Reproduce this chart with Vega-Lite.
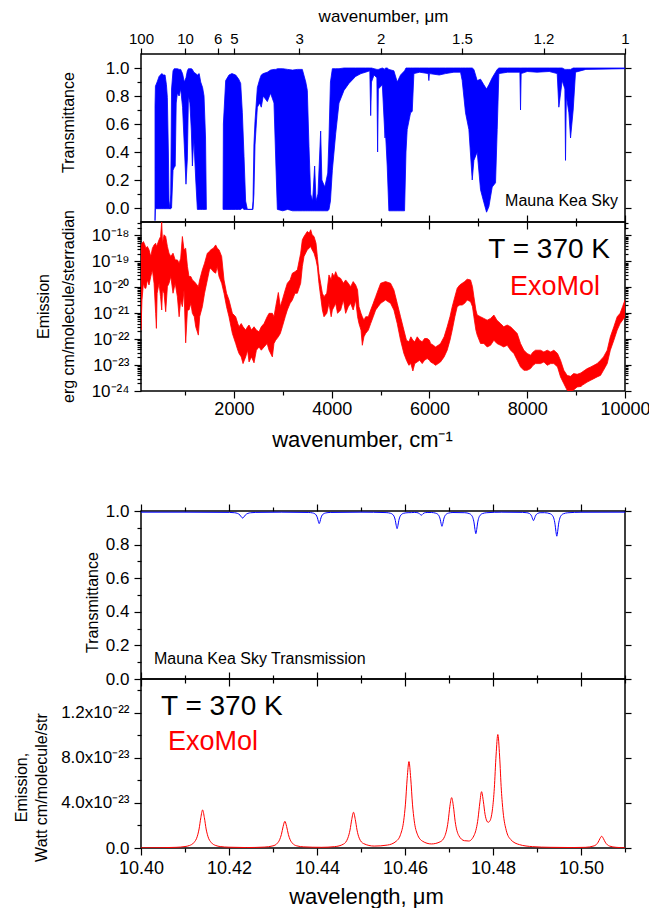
{
  "$schema": "https://vega.github.io/schema/vega-lite/v6.json",
  "autosize": {"type": "pad"},
  "padding": {"left": 12, "top": 6, "right": 0, "bottom": 0},
  "background": "white",
  "config": {
    "font": "Liberation Sans",
    "view": {"stroke": "black", "strokeWidth": 1.5},
    "axis": {
      "domain": false, "grid": false, "tickColor": "black", "tickWidth": 1.2,
      "labelFont": "Liberation Sans", "labelFontSize": 17, "labelColor": "black",
      "titleFont": "Liberation Sans", "titleFontWeight": "normal", "titleColor": "black", "titleFontSize": 16,
      "labelOverlap": false, "labelFlush": false, "labelBound": false
    },
    "text": {"font": "Liberation Sans"}
  },
  "datasets": {
    "trans_wide": [
      {"wn":387,"lo":-0.09,"hi":0.73,"s":1},{"wn":395,"lo":-0.005,"hi":0.87,"s":1},{"wn":430,"lo":-0.005,"hi":0.9,"s":1},
      {"wn":470,"lo":-0.005,"hi":0.94,"s":1},{"wn":524,"lo":-0.005,"hi":0.96,"s":1},{"wn":560,"lo":-0.005,"hi":0.95,"s":1},
      {"wn":592,"lo":-0.005,"hi":0.95,"s":1},{"wn":620,"lo":-0.005,"hi":0.88,"s":1},{"wn":639,"lo":-0.005,"hi":0.79,"s":1},
      {"wn":660,"lo":-0.005,"hi":0.4,"s":1},{"wn":673,"lo":-0.005,"hi":0.05,"s":1},{"wn":690,"lo":-0.005,"hi":-0.005,"s":1},
      {"wn":708,"lo":-0.005,"hi":0.1,"s":1},{"wn":725,"lo":0,"hi":0.85,"s":1},{"wn":755,"lo":0.27,"hi":0.98,"s":1},
      {"wn":780,"lo":0.29,"hi":0.995,"s":1},{"wn":800,"lo":0.3,"hi":0.995,"s":1},{"wn":820,"lo":0.75,"hi":0.995,"s":1},
      {"wn":844,"lo":0.82,"hi":0.995,"s":1},{"wn":880,"lo":0.8,"hi":0.99,"s":1},{"wn":912,"lo":0.85,"hi":0.99,"s":1},
      {"wn":950,"lo":0.72,"hi":0.96,"s":1},{"wn":985,"lo":0.45,"hi":0.9,"s":1},{"wn":1020,"lo":0.17,"hi":0.93,"s":1},
      {"wn":1048,"lo":0.35,"hi":0.98,"s":1},{"wn":1070,"lo":0.8,"hi":0.995,"s":1},{"wn":1100,"lo":0.75,"hi":0.995,"s":1},
      {"wn":1130,"lo":0.55,"hi":0.995,"s":1},{"wn":1151,"lo":0.3,"hi":0.99,"s":1},{"wn":1180,"lo":0.5,"hi":0.97,"s":1},
      {"wn":1220,"lo":0.2,"hi":0.96,"s":1},{"wn":1253,"lo":-0.01,"hi":0.95,"s":1},{"wn":1290,"lo":-0.01,"hi":0.96,"s":1},
      {"wn":1321,"lo":-0.01,"hi":0.9,"s":1},{"wn":1360,"lo":-0.01,"hi":0.86,"s":1},{"wn":1389,"lo":-0.01,"hi":0.8,"s":1},
      {"wn":1420,"lo":-0.01,"hi":0.5,"s":1},{"wn":1437,"lo":-0.01,"hi":-0.01,"s":1},
      {"wn":1778,"lo":-0.01,"hi":0.0,"s":2},{"wn":1785,"lo":-0.01,"hi":0.6,"s":2},{"wn":1832,"lo":-0.01,"hi":0.91,"s":2},
      {"wn":1900,"lo":-0.01,"hi":0.95,"s":2},{"wn":1960,"lo":-0.01,"hi":0.96,"s":2},{"wn":2037,"lo":-0.01,"hi":0.95,"s":2},
      {"wn":2100,"lo":-0.01,"hi":0.92,"s":2},{"wn":2139,"lo":-0.01,"hi":0.89,"s":2},{"wn":2173,"lo":0.0,"hi":0.68,"s":2},
      {"wn":2207,"lo":-0.01,"hi":0.37,"s":2},{"wn":2240,"lo":-0.01,"hi":0.05,"s":2},{"wn":2275,"lo":-0.01,"hi":-0.01,"s":2},
      {"wn":2378,"lo":-0.01,"hi":-0.01,"s":2},{"wn":2391,"lo":-0.01,"hi":0.05,"s":2},{"wn":2410,"lo":0.1,"hi":0.45,"s":2},
      {"wn":2432,"lo":0.45,"hi":0.62,"s":2},{"wn":2480,"lo":0.72,"hi":0.86,"s":2},{"wn":2528,"lo":0.75,"hi":0.92,"s":2},
      {"wn":2560,"lo":0.72,"hi":0.95,"s":2},{"wn":2600,"lo":0.8,"hi":0.96,"s":2},{"wn":2684,"lo":0.76,"hi":0.97,"s":2},
      {"wn":2750,"lo":0.82,"hi":0.985,"s":2},{"wn":2820,"lo":0.75,"hi":0.99,"s":2},{"wn":2860,"lo":0.3,"hi":0.99,"s":2},
      {"wn":2889,"lo":-0.01,"hi":0.995,"s":2},{"wn":3000,"lo":-0.02,"hi":0.995,"s":2},{"wn":3100,"lo":-0.01,"hi":0.99,"s":2},
      {"wn":3200,"lo":-0.02,"hi":0.985,"s":2},{"wn":3300,"lo":-0.02,"hi":0.99,"s":2},{"wn":3400,"lo":-0.02,"hi":0.99,"s":2},
      {"wn":3470,"lo":-0.02,"hi":0.9,"s":2},{"wn":3502,"lo":-0.02,"hi":0.84,"s":2},{"wn":3536,"lo":-0.02,"hi":0.44,"s":2},
      {"wn":3570,"lo":-0.02,"hi":0.1,"s":2},{"wn":3610,"lo":-0.02,"hi":0.05,"s":2},{"wn":3652,"lo":-0.02,"hi":0.3,"s":2},
      {"wn":3680,"lo":-0.02,"hi":0.05,"s":2},{"wn":3720,"lo":-0.02,"hi":0.1,"s":2},{"wn":3775,"lo":-0.02,"hi":0.55,"s":2},
      {"wn":3800,"lo":-0.02,"hi":0.2,"s":2},{"wn":3860,"lo":-0.02,"hi":0.15,"s":2},{"wn":3920,"lo":-0.02,"hi":0.25,"s":2},
      {"wn":3945,"lo":-0.01,"hi":0.5,"s":2},{"wn":3975,"lo":0.05,"hi":0.9,"s":2},{"wn":4014,"lo":0.27,"hi":0.995,"s":2},
      {"wn":4082,"lo":0.53,"hi":0.995,"s":2},{"wn":4150,"lo":0.75,"hi":0.995,"s":2},{"wn":4252,"lo":0.84,"hi":1.0,"s":2},
      {"wn":4354,"lo":0.89,"hi":1.0,"s":2},{"wn":4491,"lo":0.94,"hi":1.0,"s":2},{"wn":4600,"lo":0.96,"hi":1.0,"s":2},
      {"wn":4695,"lo":0.97,"hi":1.0,"s":2},{"wn":4780,"lo":0.98,"hi":1.0,"s":2},{"wn":4798,"lo":0.66,"hi":1.0,"s":2},
      {"wn":4815,"lo":0.9,"hi":1.0,"s":2},{"wn":4866,"lo":0.95,"hi":0.995,"s":2},{"wn":4925,"lo":0.93,"hi":0.99,"s":2},
      {"wn":4940,"lo":0.4,"hi":0.99,"s":2},{"wn":4955,"lo":0.85,"hi":0.99,"s":2},{"wn":5036,"lo":0.88,"hi":1.0,"s":2},
      {"wn":5091,"lo":0.5,"hi":0.99,"s":2},{"wn":5100,"lo":0.55,"hi":1.0,"s":2},{"wn":5136,"lo":0.3,"hi":1.0,"s":2},
      {"wn":5170,"lo":-0.02,"hi":0.99,"s":2},{"wn":5273,"lo":-0.02,"hi":0.98,"s":2},{"wn":5341,"lo":-0.02,"hi":0.9,"s":2},
      {"wn":5409,"lo":-0.02,"hi":0.95,"s":2},{"wn":5491,"lo":-0.02,"hi":0.98,"s":2},{"wn":5520,"lo":0.4,"hi":1.0,"s":2},
      {"wn":5545,"lo":0.56,"hi":1.0,"s":2},{"wn":5614,"lo":0.68,"hi":1.0,"s":2},{"wn":5648,"lo":0.69,"hi":1.0,"s":2},
      {"wn":5682,"lo":0.96,"hi":1.0,"s":2},{"wn":5800,"lo":0.97,"hi":1.0,"s":2},{"wn":5975,"lo":0.96,"hi":1.0,"s":2},
      {"wn":5988,"lo":0.91,"hi":1.0,"s":2},{"wn":6000,"lo":0.96,"hi":1.0,"s":2},{"wn":6200,"lo":0.95,"hi":1.0,"s":2},
      {"wn":6330,"lo":0.96,"hi":1.0,"s":2},{"wn":6500,"lo":0.97,"hi":1.0,"s":2},{"wn":6636,"lo":0.97,"hi":1.0,"s":2},
      {"wn":6670,"lo":0.91,"hi":1.0,"s":2},{"wn":6738,"lo":0.68,"hi":1.0,"s":2},{"wn":6807,"lo":0.56,"hi":1.0,"s":2},
      {"wn":6875,"lo":0.2,"hi":1.0,"s":2},{"wn":6909,"lo":0.34,"hi":0.99,"s":2},{"wn":6977,"lo":0.4,"hi":0.91,"s":2},
      {"wn":7045,"lo":0.13,"hi":0.92,"s":2},{"wn":7113,"lo":0.04,"hi":0.88,"s":2},{"wn":7168,"lo":-0.03,"hi":0.85,"s":2},
      {"wn":7216,"lo":0.01,"hi":0.88,"s":2},{"wn":7284,"lo":0.15,"hi":0.93,"s":2},{"wn":7352,"lo":0.18,"hi":0.97,"s":2},
      {"wn":7386,"lo":0.56,"hi":0.99,"s":2},{"wn":7420,"lo":0.96,"hi":1.0,"s":2},{"wn":7600,"lo":0.97,"hi":1.0,"s":2},
      {"wn":7850,"lo":0.97,"hi":1.0,"s":2},{"wn":7863,"lo":0.7,"hi":1.0,"s":2},{"wn":7876,"lo":0.96,"hi":1.0,"s":2},
      {"wn":8000,"lo":0.975,"hi":1.0,"s":2},{"wn":8200,"lo":0.97,"hi":1.0,"s":2},{"wn":8450,"lo":0.975,"hi":1.0,"s":2},
      {"wn":8613,"lo":0.96,"hi":1.0,"s":2},{"wn":8647,"lo":0.72,"hi":1.0,"s":2},{"wn":8715,"lo":0.91,"hi":1.0,"s":2},
      {"wn":8770,"lo":0.85,"hi":0.99,"s":2},{"wn":8783,"lo":0.34,"hi":0.99,"s":2},{"wn":8800,"lo":0.8,"hi":0.99,"s":2},
      {"wn":8852,"lo":0.68,"hi":0.99,"s":2},{"wn":8886,"lo":0.5,"hi":0.99,"s":2},{"wn":8940,"lo":0.7,"hi":1.0,"s":2},
      {"wn":8988,"lo":0.97,"hi":1.0,"s":2},{"wn":9200,"lo":0.99,"hi":1.0,"s":2},{"wn":10000,"lo":0.995,"hi":1.0,"s":2}
    ],
    "emis_wide": [
      {"wn":100,"lo":2.23e-22,"hi":3.75e-19},{"wn":120,"lo":3.24e-21,"hi":5.0e-19},{"wn":150,"lo":1.43e-20,"hi":5.8e-19},
      {"wn":180,"lo":9.2e-21,"hi":4.3e-19},{"wn":200,"lo":9.2e-21,"hi":3.2e-19},{"wn":230,"lo":1.92e-20,"hi":3.75e-19},
      {"wn":264,"lo":1.23e-20,"hi":2.8e-19},{"wn":300,"lo":2.6e-20,"hi":1.54e-19},{"wn":333,"lo":4.7e-20,"hi":3.2e-19},
      {"wn":367,"lo":1.43e-20,"hi":4.3e-19},{"wn":400,"lo":9.9e-22,"hi":5.0e-19},{"wn":415,"lo":2.6e-22,"hi":3.75e-19},
      {"wn":430,"lo":5.9e-21,"hi":4.3e-19},{"wn":469,"lo":1.43e-20,"hi":6.8e-19},{"wn":500,"lo":4.36e-21,"hi":9.1e-19},
      {"wn":524,"lo":1.33e-21,"hi":3.5e-18},{"wn":540,"lo":7.9e-21,"hi":5.0e-19},{"wn":571,"lo":5.9e-21,"hi":1.06e-18},
      {"wn":605,"lo":1.14e-21,"hi":9.1e-19},{"wn":640,"lo":1.06e-20,"hi":3.75e-19},{"wn":673,"lo":1.43e-20,"hi":2.07e-19},
      {"wn":710,"lo":2.6e-20,"hi":1.54e-19},{"wn":755,"lo":5.9e-21,"hi":2.07e-19},{"wn":800,"lo":1.43e-20,"hi":1.14e-19},
      {"wn":844,"lo":4.36e-21,"hi":1.14e-19},{"wn":880,"lo":7.3e-22,"hi":8.5e-20},{"wn":912,"lo":3.24e-21,"hi":1.32e-19},
      {"wn":946,"lo":1.79e-21,"hi":9.1e-19},{"wn":980,"lo":7.9e-21,"hi":2.8e-19},{"wn":1014,"lo":7.2e-23,"hi":3.2e-19},
      {"wn":1050,"lo":1.33e-21,"hi":6.3e-20},{"wn":1082,"lo":1.33e-21,"hi":2.6e-20},{"wn":1120,"lo":2.4e-21,"hi":2.6e-20},
      {"wn":1151,"lo":9.9e-22,"hi":1.92e-20},{"wn":1190,"lo":7.3e-22,"hi":1.66e-20},{"wn":1219,"lo":3.0e-22,"hi":1.43e-20},
      {"wn":1273,"lo":1.43e-22,"hi":1.06e-20},{"wn":1300,"lo":7.3e-22,"hi":1.92e-20},{"wn":1355,"lo":1.79e-21,"hi":4.7e-20},
      {"wn":1400,"lo":5.9e-21,"hi":8.5e-20},{"wn":1457,"lo":1.92e-20,"hi":2.07e-19},{"wn":1500,"lo":4.7e-20,"hi":2.4e-19},
      {"wn":1526,"lo":5.4e-20,"hi":2.8e-19},{"wn":1580,"lo":4.0e-20,"hi":3.2e-19},{"wn":1628,"lo":3.5e-20,"hi":4.3e-19},
      {"wn":1660,"lo":6.3e-20,"hi":3.2e-19},{"wn":1696,"lo":2.6e-20,"hi":2.8e-19},{"wn":1750,"lo":1.43e-20,"hi":1.54e-19},
      {"wn":1798,"lo":5.9e-21,"hi":1.92e-20},{"wn":1850,"lo":1.79e-21,"hi":5.9e-21},{"wn":1900,"lo":7.3e-22,"hi":3.24e-21},
      {"wn":1969,"lo":1.66e-22,"hi":9.9e-22},{"wn":2037,"lo":6.8e-23,"hi":7.3e-22},{"wn":2080,"lo":3.75e-23,"hi":4.0e-22},
      {"wn":2105,"lo":2.8e-23,"hi":3.0e-22},{"wn":2150,"lo":2.07e-23,"hi":4.0e-22},{"wn":2187,"lo":1.14e-23,"hi":3.0e-22},
      {"wn":2241,"lo":2.07e-23,"hi":2.23e-22},{"wn":2280,"lo":3.75e-23,"hi":3.0e-22},{"wn":2310,"lo":1.32e-23,"hi":3.5e-22},
      {"wn":2360,"lo":2.07e-23,"hi":2.23e-22},{"wn":2412,"lo":1.22e-23,"hi":3.0e-22},{"wn":2460,"lo":3.75e-23,"hi":2.23e-22},
      {"wn":2514,"lo":5.0e-23,"hi":1.92e-22},{"wn":2560,"lo":3.75e-23,"hi":3.0e-22},{"wn":2617,"lo":5.0e-23,"hi":4.0e-22},
      {"wn":2680,"lo":6.8e-23,"hi":7.3e-22},{"wn":2719,"lo":3.75e-23,"hi":9.9e-22},{"wn":2787,"lo":2.07e-23,"hi":9.9e-22},
      {"wn":2820,"lo":6.8e-23,"hi":7.3e-22},{"wn":2855,"lo":9.1e-23,"hi":1.79e-21},{"wn":2909,"lo":1.23e-22,"hi":6.3e-21},
      {"wn":2950,"lo":1.66e-22,"hi":1.79e-21},{"wn":2991,"lo":3.0e-22,"hi":3.24e-21},{"wn":3050,"lo":7.3e-22,"hi":7.9e-21},
      {"wn":3093,"lo":1.33e-21,"hi":1.43e-20},{"wn":3150,"lo":2.4e-21,"hi":1.92e-20},{"wn":3196,"lo":3.24e-21,"hi":3.5e-20},
      {"wn":3250,"lo":5.9e-21,"hi":4.0e-20},{"wn":3298,"lo":5.9e-21,"hi":4.7e-20},{"wn":3366,"lo":1.43e-20,"hi":2.07e-19},
      {"wn":3400,"lo":6.3e-20,"hi":6.8e-19},{"wn":3434,"lo":1.54e-19,"hi":9.1e-19},{"wn":3502,"lo":2.8e-19,"hi":1.43e-18},
      {"wn":3540,"lo":3.2e-19,"hi":1.23e-18},{"wn":3571,"lo":3.75e-19,"hi":1.66e-18},{"wn":3600,"lo":2.8e-19,"hi":1.06e-18},
      {"wn":3639,"lo":2.07e-19,"hi":9.1e-19},{"wn":3680,"lo":1.14e-19,"hi":5.0e-19},{"wn":3707,"lo":6.3e-20,"hi":1.54e-19},
      {"wn":3740,"lo":1.43e-20,"hi":3.5e-20},{"wn":3775,"lo":4.36e-21,"hi":1.43e-20},{"wn":3810,"lo":1.33e-21,"hi":5.9e-21},
      {"wn":3843,"lo":7.3e-22,"hi":4.36e-21},{"wn":3900,"lo":9.9e-22,"hi":5.9e-21},{"wn":3945,"lo":2.4e-21,"hi":3.0e-20},
      {"wn":3990,"lo":7.3e-22,"hi":1.92e-20},{"wn":4014,"lo":1.33e-21,"hi":3.5e-20},{"wn":4050,"lo":1.79e-21,"hi":2.6e-20},
      {"wn":4082,"lo":2.4e-21,"hi":4.0e-20},{"wn":4120,"lo":9.9e-22,"hi":2.6e-20},{"wn":4184,"lo":1.33e-21,"hi":2.2e-20},
      {"wn":4240,"lo":3.24e-21,"hi":1.43e-20},{"wn":4286,"lo":9.9e-22,"hi":1.92e-20},{"wn":4340,"lo":1.79e-21,"hi":1.43e-20},
      {"wn":4389,"lo":2.4e-21,"hi":1.06e-20},{"wn":4440,"lo":1.33e-21,"hi":1.66e-20},{"wn":4491,"lo":3.24e-21,"hi":1.23e-20},
      {"wn":4530,"lo":7.3e-22,"hi":7.9e-21},{"wn":4559,"lo":4.0e-22,"hi":1.79e-21},{"wn":4600,"lo":2.23e-22,"hi":9.9e-22},
      {"wn":4627,"lo":5.8e-23,"hi":7.3e-22},{"wn":4660,"lo":1.23e-22,"hi":5.4e-22},{"wn":4695,"lo":1.66e-22,"hi":7.3e-22},
      {"wn":4750,"lo":2.23e-22,"hi":7.3e-22},{"wn":4798,"lo":4.0e-22,"hi":1.33e-21},{"wn":4850,"lo":7.3e-22,"hi":2.4e-21},
      {"wn":4900,"lo":1.33e-21,"hi":4.36e-21},{"wn":4950,"lo":1.79e-21,"hi":7.9e-21},{"wn":5002,"lo":2.4e-21,"hi":1.43e-20},
      {"wn":5102,"lo":3.24e-21,"hi":1.66e-20},{"wn":5205,"lo":2.4e-21,"hi":1.43e-20},{"wn":5273,"lo":1.33e-21,"hi":7.9e-21},
      {"wn":5341,"lo":4.0e-22,"hi":2.4e-21},{"wn":5409,"lo":9.1e-23,"hi":7.3e-22},{"wn":5477,"lo":2.8e-23,"hi":2.23e-22},
      {"wn":5530,"lo":1.54e-23,"hi":9.1e-23},{"wn":5579,"lo":9.8e-24,"hi":7.9e-23},{"wn":5620,"lo":1.14e-23,"hi":1.23e-22},
      {"wn":5661,"lo":5.9e-24,"hi":9.1e-23},{"wn":5700,"lo":1.14e-23,"hi":7.9e-23},{"wn":5750,"lo":1.32e-23,"hi":1.23e-22},
      {"wn":5800,"lo":1.54e-23,"hi":9.1e-23},{"wn":5852,"lo":1.14e-23,"hi":7.9e-23},{"wn":5900,"lo":1.54e-23,"hi":1.06e-22},
      {"wn":5954,"lo":1.78e-23,"hi":1.06e-22},{"wn":6000,"lo":1.54e-23,"hi":9.1e-23},{"wn":6023,"lo":1.32e-23,"hi":6.8e-23},
      {"wn":6080,"lo":1.14e-23,"hi":5.8e-23},{"wn":6125,"lo":9.8e-24,"hi":5.0e-23},{"wn":6180,"lo":1.14e-23,"hi":5.8e-23},
      {"wn":6227,"lo":1.32e-23,"hi":6.8e-23},{"wn":6300,"lo":2.07e-23,"hi":1.23e-22},{"wn":6363,"lo":3.75e-23,"hi":3.0e-22},
      {"wn":6420,"lo":9.1e-23,"hi":7.3e-22},{"wn":6466,"lo":2.23e-22,"hi":1.79e-21},{"wn":6520,"lo":7.3e-22,"hi":4.36e-21},
      {"wn":6568,"lo":1.79e-21,"hi":9.2e-21},{"wn":6620,"lo":2.07e-21,"hi":1.23e-20},{"wn":6670,"lo":2.07e-21,"hi":1.43e-20},
      {"wn":6720,"lo":2.4e-21,"hi":1.66e-20},{"wn":6772,"lo":3.24e-21,"hi":2.05e-20},{"wn":6841,"lo":2.8e-21,"hi":1.92e-20},
      {"wn":6880,"lo":1.79e-21,"hi":1.06e-20},{"wn":6909,"lo":7.3e-22,"hi":4.36e-21},{"wn":6950,"lo":2.23e-22,"hi":1.33e-21},
      {"wn":6977,"lo":1.43e-22,"hi":8.5e-22},{"wn":7045,"lo":6.8e-23,"hi":7.3e-22},{"wn":7113,"lo":6.8e-23,"hi":6.3e-22},
      {"wn":7181,"lo":5.0e-23,"hi":5.4e-22},{"wn":7250,"lo":5.8e-23,"hi":6.3e-22},{"wn":7318,"lo":9.1e-23,"hi":8.5e-22},
      {"wn":7380,"lo":6.8e-23,"hi":5.4e-22},{"wn":7454,"lo":5.8e-23,"hi":4.0e-22},{"wn":7520,"lo":5.0e-23,"hi":3.0e-22},
      {"wn":7590,"lo":5.8e-23,"hi":3.5e-22},{"wn":7660,"lo":3.75e-23,"hi":3.0e-22},{"wn":7727,"lo":2.8e-23,"hi":2.23e-22},
      {"wn":7795,"lo":1.54e-23,"hi":1.66e-22},{"wn":7863,"lo":8.5e-24,"hi":6.8e-23},{"wn":7931,"lo":6.3e-24,"hi":3.75e-23},
      {"wn":7999,"lo":6.3e-24,"hi":2.8e-23},{"wn":8068,"lo":7.3e-24,"hi":2.4e-23},{"wn":8120,"lo":9.8e-24,"hi":3.2e-23},
      {"wn":8170,"lo":1.14e-23,"hi":3.75e-23},{"wn":8272,"lo":1.14e-23,"hi":3.75e-23},{"wn":8340,"lo":1.32e-23,"hi":3.2e-23},
      {"wn":8409,"lo":9.8e-24,"hi":3.75e-23},{"wn":8480,"lo":1.14e-23,"hi":3.2e-23},{"wn":8545,"lo":1.14e-23,"hi":3.75e-23},
      {"wn":8620,"lo":8.5e-24,"hi":2.8e-23},{"wn":8681,"lo":3.5e-24,"hi":1.54e-23},{"wn":8749,"lo":1.92e-24,"hi":6.3e-24},
      {"wn":8817,"lo":1.06e-24,"hi":4.0e-24},{"wn":8886,"lo":9e-25,"hi":3.7e-24},{"wn":8950,"lo":1.1e-24,"hi":4.7e-24},
      {"wn":9022,"lo":1.43e-24,"hi":4.4e-24},{"wn":9100,"lo":1.5e-24,"hi":5.0e-24},{"wn":9124,"lo":1.66e-24,"hi":5.4e-24},
      {"wn":9227,"lo":2.2e-24,"hi":7.3e-24},{"wn":9300,"lo":2.6e-24,"hi":8.5e-24},{"wn":9363,"lo":3.0e-24,"hi":9.8e-24},
      {"wn":9430,"lo":3.5e-24,"hi":1.14e-23},{"wn":9499,"lo":4.0e-24,"hi":1.54e-23},{"wn":9560,"lo":6.3e-24,"hi":2.07e-23},
      {"wn":9636,"lo":1.14e-23,"hi":3.75e-23},{"wn":9700,"lo":3.75e-23,"hi":1.23e-22},{"wn":9772,"lo":9.1e-23,"hi":3.0e-22},
      {"wn":9840,"lo":2.23e-22,"hi":7.3e-22},{"wn":9900,"lo":4.0e-22,"hi":9.9e-22},{"wn":9950,"lo":5.4e-22,"hi":1.79e-21},
      {"wn":10000,"lo":7.3e-22,"hi":3.24e-21}
    ],
    "trans_narrow": [
      {"lam":10.400,"t":0.993},{"lam":10.410,"t":0.993},{"lam":10.4201,"t":0.9917},{"lam":10.4213,"t":0.9895},
      {"lam":10.4219,"t":0.986},{"lam":10.4225,"t":0.9755},{"lam":10.4228,"t":0.965},{"lam":10.4231,"t":0.958},
      {"lam":10.4234,"t":0.965},{"lam":10.4237,"t":0.9755},{"lam":10.4243,"t":0.986},{"lam":10.4249,"t":0.9895},
      {"lam":10.4261,"t":0.9917},{"lam":10.432,"t":0.993},{"lam":10.438,"t":0.9913},{"lam":10.439,"t":0.9885},
      {"lam":10.4395,"t":0.9836},{"lam":10.4398,"t":0.9763},{"lam":10.4401,"t":0.959},{"lam":10.4403,"t":0.9386},
      {"lam":10.4405,"t":0.925},{"lam":10.4407,"t":0.9386},{"lam":10.4409,"t":0.959},{"lam":10.4412,"t":0.9763},
      {"lam":10.4415,"t":0.9836},{"lam":10.442,"t":0.9885},{"lam":10.443,"t":0.9913},{"lam":10.450,"t":0.993},
      {"lam":10.4557,"t":0.9905},{"lam":10.4567,"t":0.9865},{"lam":10.4572,"t":0.9795},{"lam":10.4575,"t":0.9689},
      {"lam":10.4578,"t":0.944},{"lam":10.458,"t":0.9146},{"lam":10.4582,"t":0.895},{"lam":10.4584,"t":0.9146},
      {"lam":10.4586,"t":0.944},{"lam":10.4589,"t":0.9689},{"lam":10.4592,"t":0.9795},{"lam":10.4597,"t":0.9865},
      {"lam":10.4607,"t":0.990},{"lam":10.4615,"t":0.9905},{"lam":10.4622,"t":0.9918},{"lam":10.4627,"t":0.9905},
      {"lam":10.463,"t":0.9886},{"lam":10.4633,"t":0.984},{"lam":10.4635,"t":0.9786},{"lam":10.4637,"t":0.975},
      {"lam":10.4639,"t":0.9786},{"lam":10.4641,"t":0.984},{"lam":10.4644,"t":0.9886},{"lam":10.4647,"t":0.9905},
      {"lam":10.4652,"t":0.9912},{"lam":10.466,"t":0.991},{"lam":10.4669,"t":0.9875},{"lam":10.4674,"t":0.9814},
      {"lam":10.4677,"t":0.9723},{"lam":10.468,"t":0.951},{"lam":10.4682,"t":0.9258},{"lam":10.4684,"t":0.909},
      {"lam":10.4686,"t":0.9258},{"lam":10.4688,"t":0.951},{"lam":10.4691,"t":0.9723},{"lam":10.4694,"t":0.9814},
      {"lam":10.4699,"t":0.9875},{"lam":10.4709,"t":0.9909},{"lam":10.4736,"t":0.9898},{"lam":10.4746,"t":0.9846},
      {"lam":10.4751,"t":0.9753},{"lam":10.4754,"t":0.9615},{"lam":10.4757,"t":0.929},{"lam":10.4759,"t":0.8906},
      {"lam":10.4761,"t":0.865},{"lam":10.4763,"t":0.8906},{"lam":10.4765,"t":0.929},{"lam":10.4768,"t":0.9615},
      {"lam":10.4771,"t":0.9753},{"lam":10.4776,"t":0.9846},{"lam":10.4786,"t":0.9898},{"lam":10.482,"t":0.993},
      {"lam":10.4867,"t":0.9918},{"lam":10.4877,"t":0.9897},{"lam":10.4882,"t":0.9861},{"lam":10.4885,"t":0.9807},
      {"lam":10.4888,"t":0.968},{"lam":10.489,"t":0.953},{"lam":10.4892,"t":0.943},{"lam":10.4894,"t":0.953},
      {"lam":10.4896,"t":0.968},{"lam":10.4899,"t":0.9807},{"lam":10.4902,"t":0.9861},{"lam":10.4907,"t":0.9897},
      {"lam":10.4917,"t":0.990},{"lam":10.493,"t":0.9836},{"lam":10.4935,"t":0.9733},{"lam":10.4938,"t":0.9578},
      {"lam":10.4941,"t":0.9215},{"lam":10.4943,"t":0.8786},{"lam":10.4945,"t":0.85},{"lam":10.4947,"t":0.8786},
      {"lam":10.4949,"t":0.9215},{"lam":10.4952,"t":0.9578},{"lam":10.4955,"t":0.9733},{"lam":10.496,"t":0.9836},
      {"lam":10.497,"t":0.9894},{"lam":10.500,"t":0.9925},{"lam":10.510,"t":0.993}
    ],
    "emis_narrow": [
      {"lam":10.400,"e":1e-25},{"lam":10.405,"e":3e-25},{"lam":10.408,"e":6e-25},{"lam":10.410,"e":1.3e-24},
      {"lam":10.411,"e":2.2e-24},{"lam":10.412,"e":4.7e-24},{"lam":10.4128,"e":1.04e-23},{"lam":10.4132,"e":1.69e-23},
      {"lam":10.4136,"e":2.70e-23},{"lam":10.4140,"e":3.38e-23},{"lam":10.4144,"e":2.70e-23},{"lam":10.4148,"e":1.69e-23},
      {"lam":10.4152,"e":1.04e-23},{"lam":10.416,"e":4.7e-24},{"lam":10.417,"e":2.2e-24},{"lam":10.418,"e":1.3e-24},
      {"lam":10.420,"e":7e-25},{"lam":10.424,"e":4e-25},{"lam":10.428,"e":8e-25},{"lam":10.430,"e":1.9e-24},
      {"lam":10.431,"e":4.3e-24},{"lam":10.4315,"e":7.3e-24},{"lam":10.4319,"e":1.19e-23},{"lam":10.4323,"e":1.90e-23},
      {"lam":10.4327,"e":2.37e-23},{"lam":10.4331,"e":1.90e-23},{"lam":10.4335,"e":1.19e-23},{"lam":10.4339,"e":7.3e-24},
      {"lam":10.4344,"e":4.3e-24},{"lam":10.4354,"e":1.9e-24},{"lam":10.437,"e":1.0e-24},{"lam":10.441,"e":6e-25},
      {"lam":10.444,"e":1.2e-24},{"lam":10.446,"e":3.4e-24},{"lam":10.447,"e":8.7e-24},{"lam":10.4475,"e":1.59e-23},
      {"lam":10.4479,"e":2.54e-23},{"lam":10.4483,"e":3.17e-23},{"lam":10.4487,"e":2.54e-23},{"lam":10.4491,"e":1.59e-23},
      {"lam":10.4496,"e":8.7e-24},{"lam":10.4506,"e":3.9e-24},{"lam":10.453,"e":1.7e-24},{"lam":10.456,"e":2.6e-24},
      {"lam":10.458,"e":6.0e-24},{"lam":10.459,"e":1.21e-23},{"lam":10.4597,"e":2.41e-23},{"lam":10.4601,"e":3.89e-23},
      {"lam":10.4605,"e":6.19e-23},{"lam":10.4609,"e":7.67e-23},{"lam":10.4613,"e":6.19e-23},{"lam":10.4617,"e":3.89e-23},
      {"lam":10.4621,"e":2.41e-23},{"lam":10.4628,"e":1.23e-23},{"lam":10.464,"e":6.0e-24},{"lam":10.466,"e":3.6e-24},
      {"lam":10.468,"e":5.5e-24},{"lam":10.469,"e":1.01e-23},{"lam":10.4698,"e":2.36e-23},{"lam":10.4702,"e":3.70e-23},
      {"lam":10.4706,"e":4.47e-23},{"lam":10.471,"e":3.70e-23},{"lam":10.4714,"e":2.36e-23},{"lam":10.4722,"e":1.12e-23},
      {"lam":10.4735,"e":6.5e-24},{"lam":10.4745,"e":6.2e-24},{"lam":10.4758,"e":1.21e-23},{"lam":10.4766,"e":2.62e-23},
      {"lam":10.477,"e":4.0e-23},{"lam":10.4774,"e":5.0e-23},{"lam":10.4778,"e":4.16e-23},{"lam":10.4782,"e":2.97e-23},
      {"lam":10.4786,"e":2.40e-23},{"lam":10.4789,"e":2.28e-23},{"lam":10.4792,"e":2.35e-23},{"lam":10.4795,"e":2.6e-23},
      {"lam":10.4799,"e":3.5e-23},{"lam":10.4803,"e":5.3e-23},{"lam":10.4807,"e":8.25e-23},{"lam":10.4811,"e":1.007e-22},
      {"lam":10.4815,"e":8.16e-23},{"lam":10.4819,"e":5.13e-23},{"lam":10.4823,"e":3.19e-23},{"lam":10.483,"e":1.58e-23},
      {"lam":10.484,"e":7.6e-24},{"lam":10.486,"e":3.0e-24},{"lam":10.489,"e":1.2e-24},{"lam":10.493,"e":6e-25},
      {"lam":10.498,"e":4e-25},{"lam":10.501,"e":6e-25},{"lam":10.503,"e":1.9e-24},{"lam":10.5039,"e":5.2e-24},
      {"lam":10.5043,"e":8.3e-24},{"lam":10.5047,"e":1.04e-23},{"lam":10.5051,"e":8.3e-24},{"lam":10.5055,"e":5.2e-24},
      {"lam":10.5065,"e":1.7e-24},{"lam":10.508,"e":6e-25},{"lam":10.510,"e":2e-25}
    ]
  },
  "spacing": 0,
  "bounds": "flush",
  "vconcat": [
    {
      "width": 484, "height": 168,
      "data": {"name": "trans_wide"},
      "layer": [
        {
          "mark": {"type": "area", "orient": "vertical", "fill": "#0000ff", "stroke": "#0000ff", "strokeWidth": 0.8, "clip": true},
          "encoding": {
            "x": {"field": "wn", "type": "quantitative", "scale": {"domain": [100, 10000], "nice": false, "zero": false},
              "axis": {"orient": "bottom", "values": [1000,2000,3000,4000,5000,6000,7000,8000,9000,10000], "labels": false, "title": null,
                "tickSize": {"condition": {"test": "datum.value % 2000 == 0", "value": 7}, "value": 4}}},
            "y": {"field": "lo", "type": "quantitative", "stack": null, "scale": {"domain": [-0.1, 1.1], "nice": false, "zero": false},
              "axis": {"orient": "left", "values": [0,0.1,0.2,0.3,0.4,0.5,0.6,0.7,0.8,0.9,1.0],
                "labelExpr": "abs(datum.value*5-round(datum.value*5))<0.001 ? format(datum.value,'.1f') : ''",
                "tickSize": {"condition": {"test": "abs(datum.value*5-round(datum.value*5))<0.001", "value": 7}, "value": 4},
                "labelPadding": 5, "title": "Transmittance", "titleX": -73, "titleY": 68, "titleBaseline": "middle", "titleAlign": "center"}},
            "y2": {"field": "hi"},
            "detail": {"field": "s", "type": "nominal"}
          }
        },
        {
          "mark": {"type": "point", "opacity": 0},
          "encoding": {
            "x": {"field": "wn", "type": "quantitative", "scale": {"domain": [100, 10000], "nice": false, "zero": false},
              "axis": {"orient": "top", "values": [100, 1000, 1666.6667, 2000, 3333.3333, 5000, 6666.6667, 8333.3333, 10000],
                "labelExpr": "format(10000/datum.value, '.2~f')", "labelFontSize": 15, "tickSize": 6, "labelPadding": 2,
                "title": "wavenumber, μm", "titleFontSize": 17, "titleY": -38, "titleBaseline": "middle"}},
            "y": {"field": "lo", "type": "quantitative", "scale": {"domain": [-0.1, 1.1], "nice": false, "zero": false},
              "axis": {"orient": "right", "values": [0,0.2,0.4,0.6,0.8,1.0], "labels": false, "title": null, "tickSize": 6}}
          }
        },
        {
          "data": {"values": [{}]},
          "mark": {"type": "text", "text": "Mauna Kea Sky", "align": "right", "baseline": "alphabetic", "fontSize": 16, "color": "black"},
          "encoding": {
            "x": {"datum": 9857, "type": "quantitative", "axis": null},
            "y": {"datum": 0.017, "type": "quantitative", "axis": null}
          }
        }
      ],
      "resolve": {"axis": {"x": "independent", "y": "independent"}}
    },
    {
      "width": 484, "height": 169,
      "data": {"name": "emis_wide"},
      "layer": [
        {
          "mark": {"type": "area", "orient": "vertical", "fill": "#ff0000", "stroke": "#ff0000", "strokeWidth": 0.8, "clip": true},
          "encoding": {
            "x": {"field": "wn", "type": "quantitative", "scale": {"domain": [100, 10000], "nice": false, "zero": false},
              "axis": {"orient": "bottom", "values": [1000,2000,3000,4000,5000,6000,7000,8000,9000,10000],
                "labelExpr": "datum.value % 2000 == 0 ? format(datum.value, 'd') : ''", "labelFontSize": 18, "labelPadding": 2,
                "tickSize": {"condition": {"test": "datum.value % 2000 == 0", "value": 7}, "value": 4},
                "title": "wavenumber, cm⁻¹", "titleFontSize": 22, "titleX": 221, "titleY": 48, "titleBaseline": "middle"}},
            "y": {"field": "lo", "type": "quantitative", "stack": null, "scale": {"type": "log", "domain": [1e-24, 3.3e-18], "nice": false},
              "axis": {"orient": "left",
                "values": [1e-24,2e-24,3e-24,4e-24,5e-24,6e-24,7e-24,8e-24,9e-24,1e-23,2e-23,3e-23,4e-23,5e-23,6e-23,7e-23,8e-23,9e-23,1e-22,2e-22,3e-22,4e-22,5e-22,6e-22,7e-22,8e-22,9e-22,1e-21,2e-21,3e-21,4e-21,5e-21,6e-21,7e-21,8e-21,9e-21,1e-20,2e-20,3e-20,4e-20,5e-20,6e-20,7e-20,8e-20,9e-20,1e-19,2e-19,3e-19,4e-19,5e-19,6e-19,7e-19,8e-19,9e-19,1e-18,2e-18,3e-18],
                "labelExpr": "abs(log(datum.value)/LN10+24)<0.01 ? '10⁻²⁴' : abs(log(datum.value)/LN10+23)<0.01 ? '10⁻²³' : abs(log(datum.value)/LN10+22)<0.01 ? '10⁻²²' : abs(log(datum.value)/LN10+21)<0.01 ? '10⁻²¹' : abs(log(datum.value)/LN10+20)<0.01 ? '10⁻²⁰' : abs(log(datum.value)/LN10+19)<0.01 ? '10⁻¹⁹' : abs(log(datum.value)/LN10+18)<0.01 ? '10⁻¹⁸' : ''",
                "tickSize": {"condition": {"test": "abs(log(datum.value)/LN10-round(log(datum.value)/LN10))<0.01", "value": 7}, "value": 4},
                "labelPadding": 5,
                "title": ["Emission", "erg cm/molecule/sterradian"], "titleLineHeight": 24.5, "titleX": -97.5, "titleY": 84, "titleBaseline": "middle", "titleAlign": "center"}},
            "y2": {"field": "hi"}
          }
        },
        {
          "mark": {"type": "point", "opacity": 0},
          "encoding": {
            "x": {"field": "wn", "type": "quantitative", "scale": {"domain": [100, 10000], "nice": false, "zero": false},
              "axis": {"orient": "top", "values": [1000,2000,3000,4000,5000,6000,7000,8000,9000,10000], "labels": false, "title": null,
                "tickSize": {"condition": {"test": "datum.value % 2000 == 0", "value": 7}, "value": 4}}},
            "y": {"field": "hi", "type": "quantitative", "scale": {"type": "log", "domain": [1e-24, 3.3e-18], "nice": false},
              "axis": {"orient": "right",
                "values": [1e-24,2e-24,3e-24,4e-24,5e-24,6e-24,7e-24,8e-24,9e-24,1e-23,2e-23,3e-23,4e-23,5e-23,6e-23,7e-23,8e-23,9e-23,1e-22,2e-22,3e-22,4e-22,5e-22,6e-22,7e-22,8e-22,9e-22,1e-21,2e-21,3e-21,4e-21,5e-21,6e-21,7e-21,8e-21,9e-21,1e-20,2e-20,3e-20,4e-20,5e-20,6e-20,7e-20,8e-20,9e-20,1e-19,2e-19,3e-19,4e-19,5e-19,6e-19,7e-19,8e-19,9e-19,1e-18,2e-18,3e-18],
                "labels": false, "title": null,
                "tickSize": {"condition": {"test": "abs(log(datum.value)/LN10-round(log(datum.value)/LN10))<0.01", "value": 6}, "value": 3}}}
          }
        },
        {
          "data": {"values": [{}]},
          "mark": {"type": "text", "text": "T = 370 K", "align": "right", "baseline": "alphabetic", "fontSize": 28, "color": "black"},
          "encoding": {
            "x": {"datum": 9693, "type": "quantitative", "axis": null},
            "y": {"datum": 1.32e-19, "type": "quantitative", "axis": null}
          }
        },
        {
          "data": {"values": [{}]},
          "mark": {"type": "text", "text": "ExoMol", "align": "center", "baseline": "alphabetic", "fontSize": 27, "color": "#ff0000"},
          "encoding": {
            "x": {"datum": 8568, "type": "quantitative", "axis": null},
            "y": {"datum": 5.0e-21, "type": "quantitative", "axis": null}
          }
        }
      ],
      "resolve": {"axis": {"x": "independent", "y": "independent"}}
    },
    {
      "width": 484, "height": 120,
      "view": {"stroke": null},
      "data": {"values": [{}]},
      "mark": {"type": "text", "text": ""}
    },
    {
      "width": 484, "height": 168,
      "data": {"name": "trans_narrow"},
      "layer": [
        {
          "mark": {"type": "line", "color": "#0000ff", "strokeWidth": 1, "interpolate": "monotone", "clip": true},
          "encoding": {
            "x": {"field": "lam", "type": "quantitative", "scale": {"domain": [10.40, 10.51], "nice": false, "zero": false},
              "axis": {"orient": "bottom", "values": [10.40,10.41,10.42,10.43,10.44,10.45,10.46,10.47,10.48,10.49,10.50,10.51], "labels": false, "title": null,
                "tickSize": {"condition": {"test": "abs(datum.value*50-round(datum.value*50))<0.001", "value": 7}, "value": 4}}},
            "y": {"field": "t", "type": "quantitative", "scale": {"domain": [0, 1], "nice": false, "zero": false},
              "axis": {"orient": "left", "values": [0,0.1,0.2,0.3,0.4,0.5,0.6,0.7,0.8,0.9,1.0],
                "labelExpr": "abs(datum.value*5-round(datum.value*5))<0.001 ? format(datum.value,'.1f') : ''",
                "tickSize": {"condition": {"test": "abs(datum.value*5-round(datum.value*5))<0.001", "value": 7}, "value": 4},
                "labelPadding": 5, "title": "Transmittance", "titleX": -49, "titleY": 91, "titleBaseline": "middle", "titleAlign": "center"}}
          }
        },
        {
          "mark": {"type": "point", "opacity": 0},
          "encoding": {
            "x": {"field": "lam", "type": "quantitative", "scale": {"domain": [10.40, 10.51], "nice": false, "zero": false},
              "axis": {"orient": "top", "values": [10.40,10.41,10.42,10.43,10.44,10.45,10.46,10.47,10.48,10.49,10.50,10.51], "labels": false, "title": null,
                "tickSize": {"condition": {"test": "abs(datum.value*50-round(datum.value*50))<0.001", "value": 7}, "value": 4}}},
            "y": {"field": "t", "type": "quantitative", "scale": {"domain": [0, 1], "nice": false, "zero": false},
              "axis": {"orient": "right", "values": [0,0.2,0.4,0.6,0.8,1.0], "labels": false, "title": null, "tickSize": 6}}
          }
        },
        {
          "data": {"values": [{}]},
          "mark": {"type": "text", "text": "Mauna Kea Sky Transmission", "align": "left", "baseline": "alphabetic", "fontSize": 16, "color": "black"},
          "encoding": {
            "x": {"datum": 10.40295, "type": "quantitative", "axis": null},
            "y": {"datum": 0.091, "type": "quantitative", "axis": null}
          }
        }
      ],
      "resolve": {"axis": {"x": "independent", "y": "independent"}}
    },
    {
      "width": 484, "height": 169,
      "data": {"name": "emis_narrow"},
      "layer": [
        {
          "mark": {"type": "line", "color": "#ff0000", "strokeWidth": 1, "interpolate": "monotone", "clip": true},
          "encoding": {
            "x": {"field": "lam", "type": "quantitative", "scale": {"domain": [10.40, 10.51], "nice": false, "zero": false},
              "axis": {"orient": "bottom", "values": [10.40,10.41,10.42,10.43,10.44,10.45,10.46,10.47,10.48,10.49,10.50,10.51],
                "labelExpr": "abs(datum.value*50-round(datum.value*50))<0.001 ? format(datum.value,'.2f') : ''", "labelFontSize": 18, "labelPadding": 4,
                "tickSize": {"condition": {"test": "abs(datum.value*50-round(datum.value*50))<0.001", "value": 7}, "value": 4},
                "title": "wavelength, μm", "titleFontSize": 22, "titleX": 225, "titleY": 48, "titleBaseline": "middle"}},
            "y": {"field": "e", "type": "quantitative", "scale": {"domain": [0, 1.5e-22], "nice": false, "zero": false},
              "axis": {"orient": "left", "values": [0,2e-23,4e-23,6e-23,8e-23,1e-22,1.2e-22,1.4e-22],
                "labelExpr": "datum.value == 0 ? '0.0' : abs(datum.value-4e-23)<1e-25 ? '4.0x10⁻²³' : abs(datum.value-8e-23)<1e-25 ? '8.0x10⁻²³' : abs(datum.value-1.2e-22)<1e-25 ? '1.2x10⁻²²' : ''",
                "tickSize": {"condition": {"test": "abs(datum.value/4e-23-round(datum.value/4e-23))<0.01", "value": 7}, "value": 4},
                "labelPadding": 5,
                "title": ["Emission,", "Watt cm/molecule/str"], "titleLineHeight": 20, "titleX": -119.5, "titleY": 108, "titleBaseline": "middle", "titleAlign": "center"}}
          }
        },
        {
          "mark": {"type": "point", "opacity": 0},
          "encoding": {
            "x": {"field": "lam", "type": "quantitative", "scale": {"domain": [10.40, 10.51], "nice": false, "zero": false},
              "axis": {"orient": "top", "values": [10.40,10.41,10.42,10.43,10.44,10.45,10.46,10.47,10.48,10.49,10.50,10.51], "labels": false, "title": null,
                "tickSize": {"condition": {"test": "abs(datum.value*50-round(datum.value*50))<0.001", "value": 7}, "value": 4}}},
            "y": {"field": "e", "type": "quantitative", "scale": {"domain": [0, 1.5e-22], "nice": false, "zero": false},
              "axis": {"orient": "right", "values": [0,4e-23,8e-23,1.2e-22], "labels": false, "title": null, "tickSize": 6}}
          }
        },
        {
          "data": {"values": [{}]},
          "mark": {"type": "text", "text": "T = 370 K", "align": "left", "baseline": "alphabetic", "fontSize": 28, "color": "black"},
          "encoding": {
            "x": {"datum": 10.40455, "type": "quantitative", "axis": null},
            "y": {"datum": 1.178e-22, "type": "quantitative", "axis": null}
          }
        },
        {
          "data": {"values": [{}]},
          "mark": {"type": "text", "text": "ExoMol", "align": "left", "baseline": "alphabetic", "fontSize": 27, "color": "#ff0000"},
          "encoding": {
            "x": {"datum": 10.40611, "type": "quantitative", "axis": null},
            "y": {"datum": 8.67e-23, "type": "quantitative", "axis": null}
          }
        }
      ],
      "resolve": {"axis": {"x": "independent", "y": "independent"}}
    }
  ]
}
